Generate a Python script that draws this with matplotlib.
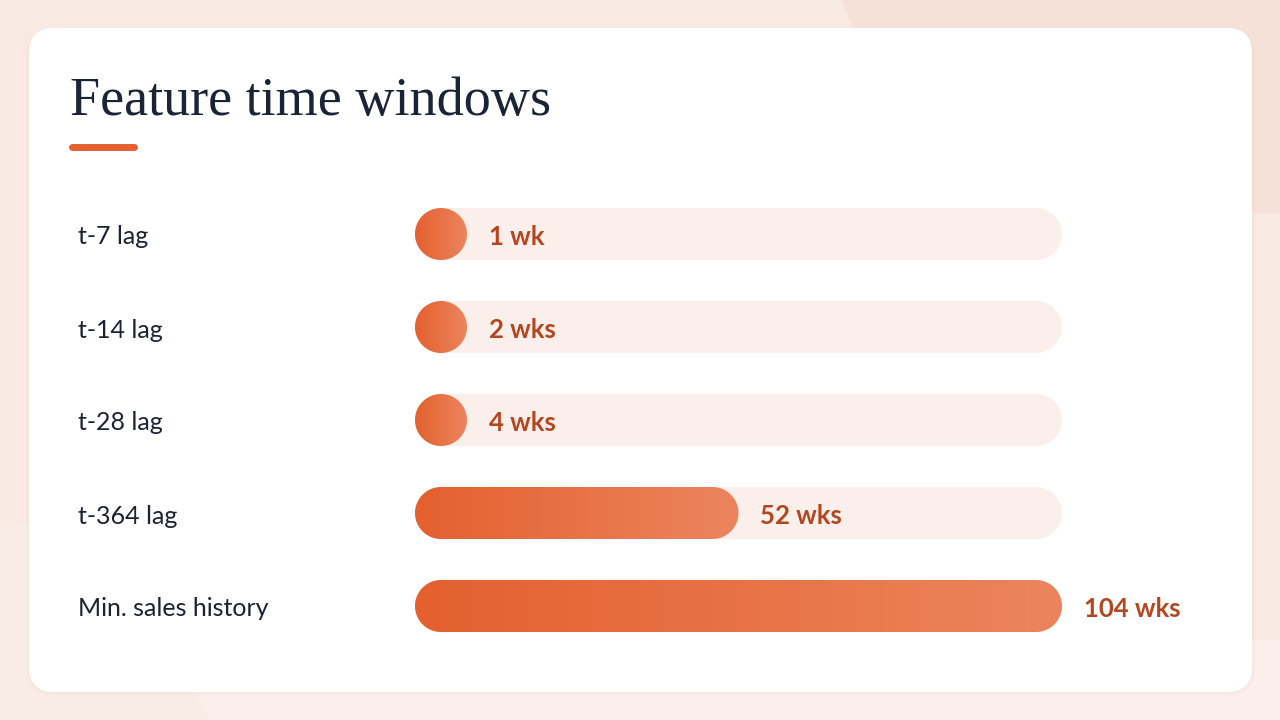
import numpy as np
import matplotlib.pyplot as plt
from matplotlib.patches import FancyBboxPatch, Polygon
from matplotlib.colors import LinearSegmentedColormap
from matplotlib.transforms import blended_transform_factory

# data
features = ['t-7 lag', 't-14 lag', 't-28 lag', 't-364 lag', 'Min. sales history']
weeks = [1, 2, 4, 52, 104]
value_labels = ['1 wk', '2 wks', '4 wks', '52 wks', '104 wks']
max_weeks = 104

W, H = 1280, 720
fig = plt.figure(figsize=(12.8, 7.2), dpi=100)

# background + card (pixel coordinates)
bg = fig.add_axes([0, 0, 1, 1])
bg.set_xlim(0, W)
bg.set_ylim(H, 0)
bg.axis('off')
bg.add_patch(plt.Rectangle((0, 0), W, H, color='#F8E9E2', zorder=0))
bg.add_patch(Polygon([(842, 0), (W, 0), (W, 212), (1255, 212), (855, 30)],
                     closed=True, color='#F6E1D8', zorder=0.5))
bg.add_patch(Polygon([(0, 520), (60, 530), (210, 720), (0, 720)],
                     closed=True, color='#F9ECE7', zorder=0.5))
bg.add_patch(Polygon([(210, 720), (170, 660), (W, 640), (W, H)],
                     closed=True, color='#FAEFEB', zorder=0.5))
# card shadow + card
for i, a in enumerate([0.025, 0.02, 0.015]):
    s = 2 + 2 * i
    bg.add_patch(FancyBboxPatch((29 - s / 2, 28 + 1), 1223 + s, 664 + s / 2,
                                boxstyle='round,pad=0,rounding_size=26',
                                fc='#C9896E', ec='none', alpha=a, zorder=1))
bg.add_patch(FancyBboxPatch((29, 28), 1223, 664,
                            boxstyle='round,pad=0,rounding_size=25',
                            fc='white', ec='none', zorder=2))

# title and accent line
fig.text(70 / W, 1 - 115 / H, 'Feature time windows', fontsize=39,
         family='Liberation Serif', color='#1B2336', va='baseline', ha='left')
bg.plot([72, 134], [147, 147], color='#E4602F', lw=5, solid_capstyle='round', zorder=3)

# bar axes
left_px, right_px = 415, 1062
top_px, bot_px = 190, 650
row0_px, row_step = 234, 93
bar_px = 52
ax = fig.add_axes([left_px / W, 1 - bot_px / H, (right_px - left_px) / W, (bot_px - top_px) / H])
ax.set_xlim(0, max_weeks)
ax.set_ylim((bot_px - row0_px) / row_step, -(row0_px - top_px) / row_step)
ax.axis('off')

x_per_px = max_weeks / (right_px - left_px)
y_per_px = 1 / row_step
ry = (bar_px / 2) * y_per_px
rx = (bar_px / 2) * x_per_px
min_w = bar_px * x_per_px


def pill(x0, x1, yc):
    # capsule shape with circular ends (in screen space)
    t = np.linspace(np.pi / 2, 3 * np.pi / 2, 60)
    left = np.column_stack([x0 + rx + rx * np.cos(t), yc + ry * np.sin(t)])
    t2 = np.linspace(-np.pi / 2, np.pi / 2, 60)
    right = np.column_stack([x1 - rx + rx * np.cos(t2), yc + ry * np.sin(t2)])
    return np.vstack([left, right])


cmap = LinearSegmentedColormap.from_list('bar', ['#E4602E', '#EC855E'])
grad = np.linspace(0, 1, 256).reshape(1, -1)

label_tr = blended_transform_factory(fig.transFigure, ax.transData)

for i, (name, wk, lab) in enumerate(zip(features, weeks, value_labels)):
    ax.add_patch(Polygon(pill(0, max_weeks, i), closed=True, fc='#FBEFEB', ec='none', zorder=1))
    w = max(wk, min_w)
    bar = Polygon(pill(0, w, i), closed=True, fc='none', ec='none', zorder=2)
    ax.add_patch(bar)
    im = ax.imshow(grad, cmap=cmap, extent=(0, w, i + ry, i - ry),
                   aspect='auto', zorder=2, interpolation='bilinear')
    im.set_clip_path(bar)
    ax.annotate(lab, (w, i), xytext=(15.5, -2), textcoords='offset points',
                va='center', ha='left', fontsize=18.5, fontweight='bold',
                family='Lato', color='#B4471F')
    ax.text(78 / W, i + 3 * y_per_px, name, transform=label_tr, va='center', ha='left',
            fontsize=18, family='Lato', color='#1C2233')

ax.set_xlim(0, max_weeks)
ax.set_ylim((bot_px - row0_px) / row_step, -(row0_px - top_px) / row_step)

fig.savefig('out.png', dpi=100)
